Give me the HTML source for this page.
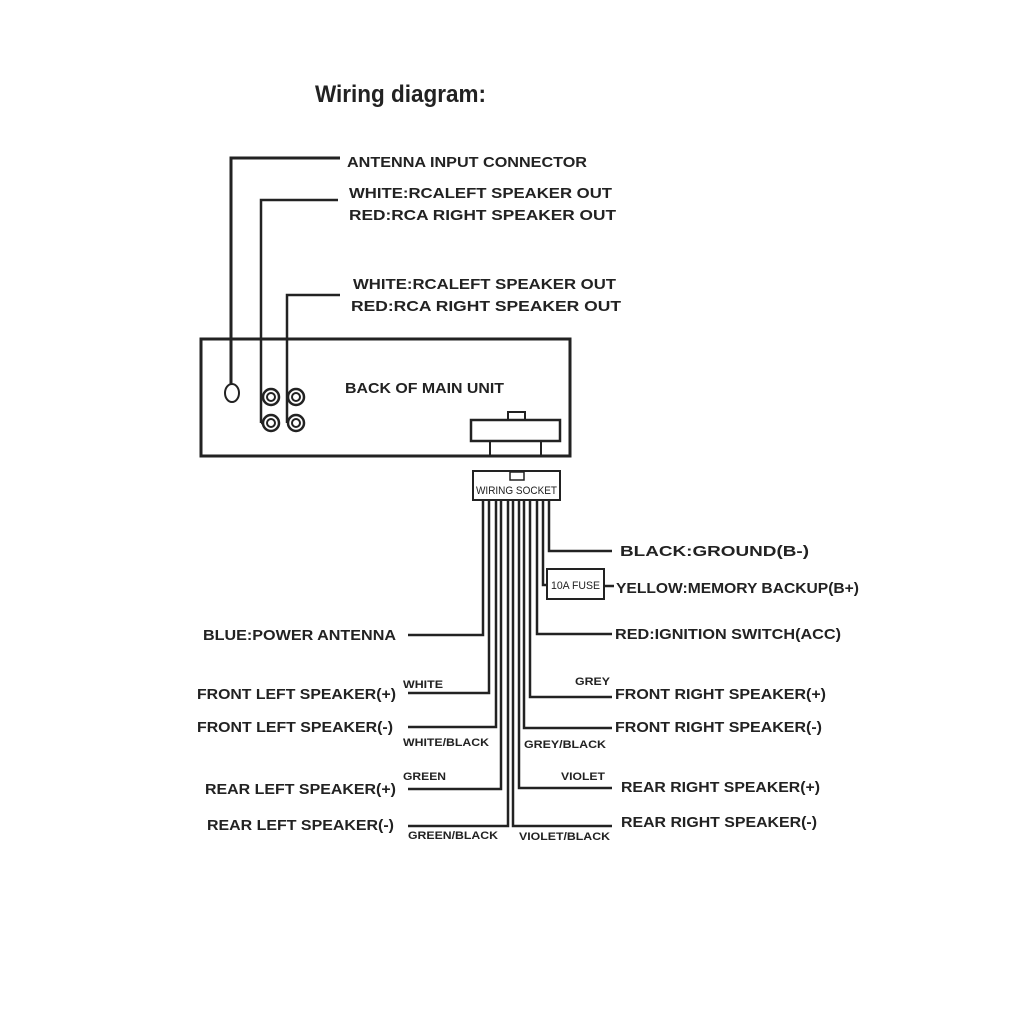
<!DOCTYPE html>
<html><head><style>body{margin:0;background:#fff}svg{display:block}</style></head><body>
<svg width="1024" height="1028" xmlns="http://www.w3.org/2000/svg" font-family="Liberation Sans, Arial, sans-serif" font-weight="bold" fill="#222">
<g stroke="#222" fill="none" stroke-width="3">
<path d="M231 384 V158 H340"/>
<path d="M261 397 H263 M261 423 H263 M261 423 V200 H338" stroke-width="2.5"/>
<path d="M287 423 V295 H340 M287 423 H288" stroke-width="2.5"/>
<rect x="201" y="339" width="369" height="117"/>
<ellipse cx="232" cy="393" rx="7" ry="9" stroke-width="2"/>
<circle cx="271" cy="397" r="8" stroke-width="2.5"/><circle cx="271" cy="397" r="4" stroke-width="2"/>
<circle cx="296" cy="397" r="8" stroke-width="2.5"/><circle cx="296" cy="397" r="4" stroke-width="2"/>
<circle cx="271" cy="423" r="8" stroke-width="2.5"/><circle cx="271" cy="423" r="4" stroke-width="2"/>
<circle cx="296" cy="423" r="8" stroke-width="2.5"/><circle cx="296" cy="423" r="4" stroke-width="2"/>
<rect x="471" y="420" width="89" height="21" stroke-width="2.5"/>
<rect x="508" y="412" width="17" height="8" stroke-width="2"/>
<path d="M490 441 V456 M541 441 V456" stroke-width="2"/>
<rect x="473" y="471" width="87" height="29" stroke-width="2"/>
<rect x="510" y="472" width="14" height="8" stroke-width="1.5"/>
<rect x="547" y="569" width="57" height="30" stroke-width="2"/>
<g stroke-width="2.5">
<path d="M483 500 V635 H408"/>
<path d="M489 500 V693 H408"/>
<path d="M496 500 V727 H408"/>
<path d="M501 500 V789 H408"/>
<path d="M508 500 V826 H408"/>
<path d="M513 500 V826 H612"/>
<path d="M519 500 V788 H612"/>
<path d="M524 500 V728 H612"/>
<path d="M530 500 V697 H612"/>
<path d="M537 500 V634 H612"/>
<path d="M543 500 V585 H547"/>
<path d="M549 500 V551 H612"/>
<path d="M604 586 H614"/>
</g>
</g>
<text x="315" y="102" font-size="24" textLength="171" lengthAdjust="spacingAndGlyphs">Wiring diagram:</text>
<g font-size="15">
<text x="347" y="167" textLength="240" lengthAdjust="spacingAndGlyphs">ANTENNA INPUT CONNECTOR</text>
<text x="349" y="198" textLength="263" lengthAdjust="spacingAndGlyphs">WHITE:RCALEFT SPEAKER OUT</text>
<text x="349" y="220" textLength="267" lengthAdjust="spacingAndGlyphs">RED:RCA RIGHT SPEAKER OUT</text>
<text x="353" y="289" textLength="263" lengthAdjust="spacingAndGlyphs">WHITE:RCALEFT SPEAKER OUT</text>
<text x="351" y="311" textLength="270" lengthAdjust="spacingAndGlyphs">RED:RCA RIGHT SPEAKER OUT</text>
<text x="345" y="393" textLength="159" lengthAdjust="spacingAndGlyphs">BACK OF MAIN UNIT</text>
<text x="620" y="556" textLength="189" lengthAdjust="spacingAndGlyphs">BLACK:GROUND(B-)</text>
<text x="616" y="593" textLength="243" lengthAdjust="spacingAndGlyphs">YELLOW:MEMORY BACKUP(B+)</text>
<text x="615" y="639" textLength="226" lengthAdjust="spacingAndGlyphs">RED:IGNITION SWITCH(ACC)</text>
<text x="615" y="699" textLength="211" lengthAdjust="spacingAndGlyphs">FRONT RIGHT SPEAKER(+)</text>
<text x="615" y="732" textLength="207" lengthAdjust="spacingAndGlyphs">FRONT RIGHT SPEAKER(-)</text>
<text x="621" y="792" textLength="199" lengthAdjust="spacingAndGlyphs">REAR RIGHT SPEAKER(+)</text>
<text x="621" y="827" textLength="196" lengthAdjust="spacingAndGlyphs">REAR RIGHT SPEAKER(-)</text>
<text x="203" y="640" textLength="193" lengthAdjust="spacingAndGlyphs">BLUE:POWER ANTENNA</text>
<text x="197" y="699" textLength="199" lengthAdjust="spacingAndGlyphs">FRONT LEFT SPEAKER(+)</text>
<text x="197" y="732" textLength="196" lengthAdjust="spacingAndGlyphs">FRONT LEFT SPEAKER(-)</text>
<text x="205" y="794" textLength="191" lengthAdjust="spacingAndGlyphs">REAR LEFT SPEAKER(+)</text>
<text x="207" y="830" textLength="187" lengthAdjust="spacingAndGlyphs">REAR LEFT SPEAKER(-)</text>
</g>
<g font-size="11" fill="#222">
<text x="476" y="494" textLength="81" lengthAdjust="spacingAndGlyphs" font-weight="normal">WIRING SOCKET</text>
<text x="551" y="589" textLength="49" lengthAdjust="spacingAndGlyphs" font-weight="normal">10A FUSE</text>
<text x="403" y="688" textLength="40" lengthAdjust="spacingAndGlyphs">WHITE</text>
<text x="403" y="746" textLength="86" lengthAdjust="spacingAndGlyphs">WHITE/BLACK</text>
<text x="403" y="780" textLength="43" lengthAdjust="spacingAndGlyphs">GREEN</text>
<text x="408" y="839" textLength="90" lengthAdjust="spacingAndGlyphs">GREEN/BLACK</text>
<text x="575" y="685" textLength="35" lengthAdjust="spacingAndGlyphs">GREY</text>
<text x="524" y="748" textLength="82" lengthAdjust="spacingAndGlyphs">GREY/BLACK</text>
<text x="561" y="780" textLength="44" lengthAdjust="spacingAndGlyphs">VIOLET</text>
<text x="519" y="840" textLength="91" lengthAdjust="spacingAndGlyphs">VIOLET/BLACK</text>
</g>
</svg>
</body></html>
